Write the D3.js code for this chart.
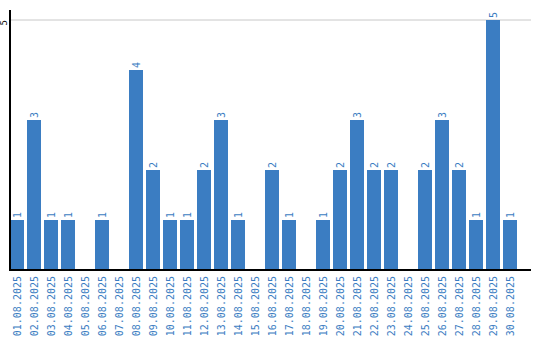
<!DOCTYPE html>
<html>
<head>
<meta charset="utf-8">
<script src="https://cdn.jsdelivr.net/npm/d3@7"></script>
<style>
  body { margin: 0; background: #fff; }
  text { font-family: "DejaVu Sans Mono", monospace; }
</style>
</head>
<body>
<div id="chart"></div>
<script>
// one bar per day, august 2025
const days = ["01.08.2025","02.08.2025","03.08.2025","04.08.2025","05.08.2025","06.08.2025",
  "07.08.2025","08.08.2025","09.08.2025","10.08.2025","11.08.2025","12.08.2025","13.08.2025",
  "14.08.2025","15.08.2025","16.08.2025","17.08.2025","18.08.2025","19.08.2025","20.08.2025",
  "21.08.2025","22.08.2025","23.08.2025","24.08.2025","25.08.2025","26.08.2025","27.08.2025",
  "28.08.2025","29.08.2025","30.08.2025"]
const counts = [1,3,1,1,0,1,0,4,2,1,1,2,3,1,0,2,1,0,1,2,3,2,2,0,2,3,2,1,5,1]
const yTicks = [5]

const width = 540, height = 340
const blue = "#3b7dc2"

let svg = d3.select("#chart").append("svg")
    .attr("width", width)
    .attr("height", height)

let x = d3.scaleBand()
    .domain(days)
    .range([10, 517])
    .paddingInner(3 / 17)
    .paddingOuter(0)

let y = d3.scaleLinear()
    .domain([0, 5])
    .range([270, 20])

// grid line(s)
svg.append("g")
    .selectAll("line")
    .data(yTicks)
    .join("line")
    .attr("x1", 10)
    .attr("x2", 531)
    .attr("y1", d => y(d))
    .attr("y2", d => y(d))
    .attr("stroke", "#c8c8c8")
    .attr("stroke-width", 1)

// y tick labels, rotated
svg.append("g")
    .selectAll("text")
    .data(yTicks)
    .join("text")
    .attr("transform", d => "translate(7," + y(d) + ") rotate(-90)")
    .attr("text-anchor", "end")
    .attr("font-size", 9)
    .attr("fill", "#000")
    .text(d => d)

// bars
svg.append("g")
    .selectAll("rect")
    .data(counts)
    .join("rect")
    .attr("x", (d, i) => x(days[i]))
    .attr("y", d => y(d))
    .attr("width", x.bandwidth())
    .attr("height", d => y(0) - y(d))
    .attr("fill", blue)

// value labels above bars (skip empty days)
svg.append("g")
    .selectAll("text")
    .data(counts.map((v, i) => ({day: days[i], v: v})).filter(d => d.v > 0))
    .join("text")
    .attr("transform", d => "translate(" + (x(d.day) + x.bandwidth() / 2 + 3.5) + "," + (y(d.v) - 2) + ") rotate(-90)")
    .attr("text-anchor", "start")
    .attr("font-size", 10)
    .attr("fill", blue)
    .text(d => d.v)

// axes lines
svg.append("line")
    .attr("x1", 10).attr("x2", 10)
    .attr("y1", 10).attr("y2", 270.5)
    .attr("stroke", "#000")
    .attr("stroke-width", 2)

svg.append("line")
    .attr("x1", 9).attr("x2", 531)
    .attr("y1", 270).attr("y2", 270)
    .attr("stroke", "#000")
    .attr("stroke-width", 2)

// x tick labels, rotated
svg.append("g")
    .selectAll("text")
    .data(days)
    .join("text")
    .attr("transform", d => "translate(" + (x(d) + x.bandwidth() / 2 + 3.5) + ",276) rotate(-90)")
    .attr("text-anchor", "end")
    .attr("font-size", 10)
    .attr("fill", blue)
    .text(d => d)
</script>
</body>
</html>
